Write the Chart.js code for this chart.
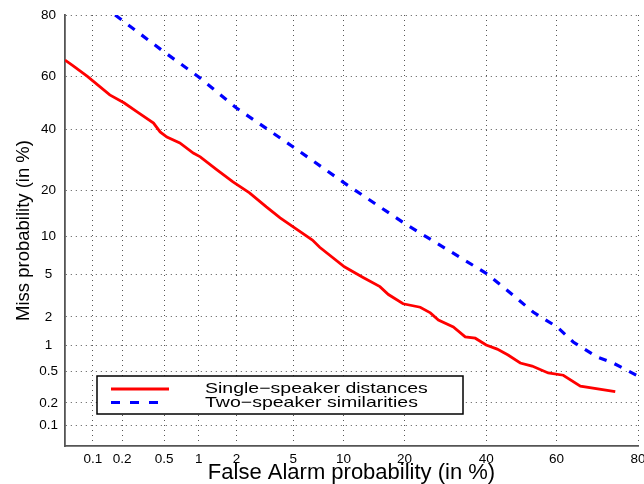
<!DOCTYPE html>
<html>
<head>
<meta charset="utf-8">
<script src="https://cdn.jsdelivr.net/npm/chart.js@4"></script>
<style>
  body { margin: 0; background: #fff; }
  #wrap { width: 644px; height: 484px; position: relative; }
</style>
</head>
<body>
<div id="wrap"><canvas id="detChart"></canvas></div>
<script>
// DET curve: values in percent, plotted on a normal-deviate (probit) scale
var tickPercents = [0.1, 0.2, 0.5, 1, 2, 5, 10, 20, 40, 60, 80];
var tickLabels = ["0.1", "0.2", "0.5", "1", "2", "5", "10", "20", "40", "60", "80"];
var axisMinPct = 0.05;
var axisMaxPct = 80;

var seriesNames = ["Single\u2212speaker distances", "Two\u2212speaker similarities"];

var singleFa = [0.05, 0.06, 0.087, 0.15, 0.21, 0.28, 0.40, 0.46, 0.53, 0.69, 0.90, 1.03, 1.41, 1.88, 2.5, 3.3, 4.1, 5.0, 6.6, 7.3,
                10.1, 12.7, 15.4, 16.9, 19.7, 23.3, 25.6, 27.5, 31.2, 34.3, 37, 40, 43.1, 46.2, 49.7, 53.1, 57.7, 61.9, 66.5, 75.1];
var singleMiss = [65.9, 64.1, 60.1, 53, 49.9, 46.5, 42.3, 39, 37.1, 35, 31.5, 30.2, 26, 22.4, 19.4, 15.9, 13.5, 11.7, 9.4, 8.3,
                  5.8, 4.7, 3.9, 3.3, 2.7, 2.5, 2.2, 1.86, 1.58, 1.24, 1.2, 1.01, 0.91, 0.78, 0.63, 0.58, 0.48, 0.45, 0.33, 0.28];

var twoFa = [0.17, 0.5, 1.0, 2.0, 5.0, 9.9, 20.1, 40, 46, 53.4, 60.2, 64.6, 70.8, 74.6, 80];
var twoMiss = [80, 68.7, 59.8, 48, 33.6, 22.4, 12.3, 5.1, 3.6, 2.24, 1.58, 1.09, 0.74, 0.63, 0.44];

// inverse normal CDF (Acklam)
function probit(p) {
    var a = [-3.969683028665376e+01, 2.209460984245205e+02, -2.759285104469687e+02, 1.383577518672690e+02, -3.066479806614716e+01, 2.506628277459239e+00];
    var b = [-5.447609879822406e+01, 1.615858368580409e+02, -1.556989798598866e+02, 6.680131188771972e+01, -1.328068155288572e+01];
    var c = [-7.784894002430293e-03, -3.223964580411365e-01, -2.400758277161838e+00, -2.549732539343734e+00, 4.374664141464968e+00, 2.938163982698783e+00];
    var d = [7.784695709041462e-03, 3.224671290700398e-01, 2.445134137142996e+00, 3.754408661907416e+00];
    var plow = 0.02425, q, r;
    if (p < plow) {
        q = Math.sqrt(-2 * Math.log(p));
        return (((((c[0]*q+c[1])*q+c[2])*q+c[3])*q+c[4])*q+c[5]) / ((((d[0]*q+d[1])*q+d[2])*q+d[3])*q+1);
    }
    if (p > 1 - plow) {
        q = Math.sqrt(-2 * Math.log(1 - p));
        return -(((((c[0]*q+c[1])*q+c[2])*q+c[3])*q+c[4])*q+c[5]) / ((((d[0]*q+d[1])*q+d[2])*q+d[3])*q+1);
    }
    q = p - 0.5;
    r = q * q;
    return (((((a[0]*r+a[1])*r+a[2])*r+a[3])*r+a[4])*r+a[5])*q / (((((b[0]*r+b[1])*r+b[2])*r+b[3])*r+b[4])*r+1);
}

function toPoints(fa, miss) {
    return fa.map(function (v, i) {
        return { x: probit(v / 100), y: probit(miss[i] / 100) };
    });
}

var font = "'Liberation Sans', Arial, Helvetica, sans-serif";

// MATLAB style legend box inside the axes
var detLegend = {
    id: "detLegend",
    afterDatasetsDraw: function (chart) {
        var ctx = chart.ctx;
        var bx = 97, by = 376, bw = 366, bh = 38;
        ctx.save();
        ctx.fillStyle = "#fff";
        ctx.fillRect(bx, by, bw, bh);
        ctx.strokeStyle = "#000";
        ctx.lineWidth = 1.5;
        ctx.strokeRect(bx, by, bw, bh);
        chart.data.datasets.forEach(function (ds, i) {
            var ly = 389 + i * 13.5;
            ctx.strokeStyle = ds.borderColor;
            ctx.lineWidth = ds.borderWidth;
            ctx.setLineDash(i === 0 ? [] : [9, 10]);
            ctx.beginPath();
            ctx.moveTo(111, ly);
            ctx.lineTo(i === 0 ? 169 : 160, ly);
            ctx.stroke();
            ctx.setLineDash([]);
            ctx.save();
            ctx.translate(205, ly);
            ctx.scale(1.3, 1);
            ctx.fillStyle = "#000";
            ctx.font = "15px " + font;
            ctx.textBaseline = "middle";
            ctx.fillText(ds.label, 0, 0);
            ctx.restore();
        });
        ctx.restore();
    }
};

function setTicks(scale) {
    scale.ticks = tickPercents.map(function (p) { return { value: probit(p / 100) }; });
}

var ctx = document.getElementById("detChart").getContext("2d");
var chart = new Chart(ctx, {
    type: "line",
    data: {
        datasets: [{
            label: seriesNames[0],
            data: toPoints(singleFa, singleMiss),
            borderColor: "#ff0000",
            borderWidth: 2.8,
            pointRadius: 0,
            fill: false,
            tension: 0
        }, {
            label: seriesNames[1],
            data: toPoints(twoFa, twoMiss),
            borderColor: "#0000ff",
            borderWidth: 3.2,
            borderDash: [8, 8.5],
            pointRadius: 0,
            fill: false,
            tension: 0
        }]
    },
    options: {
        responsive: true,
        maintainAspectRatio: false,
        animation: false,
        layout: { padding: { top: 15, right: 6, left: 0, bottom: 0 } },
        plugins: {
            legend: { display: false },
            tooltip: { enabled: false }
        },
        scales: {
            x: {
                type: "linear",
                min: probit(axisMinPct / 100),
                max: probit(axisMaxPct / 100),
                afterBuildTicks: setTicks,
                afterFit: function (scale) {
                    scale.height = 38;
                    scale.paddingLeft = 0;
                    scale.paddingRight = 0;
                },
                grid: { color: "#555", lineWidth: 1, drawTicks: false },
                border: { display: true, color: "#555", width: 1.8, dash: [1, 4] },
                ticks: {
                    autoSkip: false,
                    maxRotation: 0,
                    padding: 5,
                    color: "#000",
                    font: { family: font, size: 13.5 },
                    callback: function (v, i) { return tickLabels[i]; }
                },
                title: {
                    display: true,
                    text: "False Alarm probability (in %)",
                    color: "#000",
                    font: { family: font, size: 22, lineHeight: 1 },
                    padding: { top: 0, bottom: 0 }
                }
            },
            y: {
                type: "linear",
                min: probit(axisMinPct / 100),
                max: probit(axisMaxPct / 100),
                afterBuildTicks: setTicks,
                afterFit: function (scale) {
                    scale.width = 65;
                    scale.paddingTop = 0;
                    scale.paddingBottom = 0;
                },
                grid: { color: "#555", lineWidth: 1, drawTicks: false },
                border: { display: true, color: "#555", width: 1.8, dash: [1, 4] },
                ticks: {
                    autoSkip: false,
                    padding: 7,
                    crossAlign: "center",
                    color: "#000",
                    font: { family: font, size: 13.5 },
                    callback: function (v, i) { return tickLabels[i]; }
                },
                title: {
                    display: true,
                    text: "Miss probability (in %)",
                    color: "#000",
                    font: { family: font, size: 18.5, lineHeight: 1 },
                    padding: { top: 15, bottom: 0 }
                }
            }
        }
    },
    plugins: [detLegend]
});
</script>
</body>
</html>
